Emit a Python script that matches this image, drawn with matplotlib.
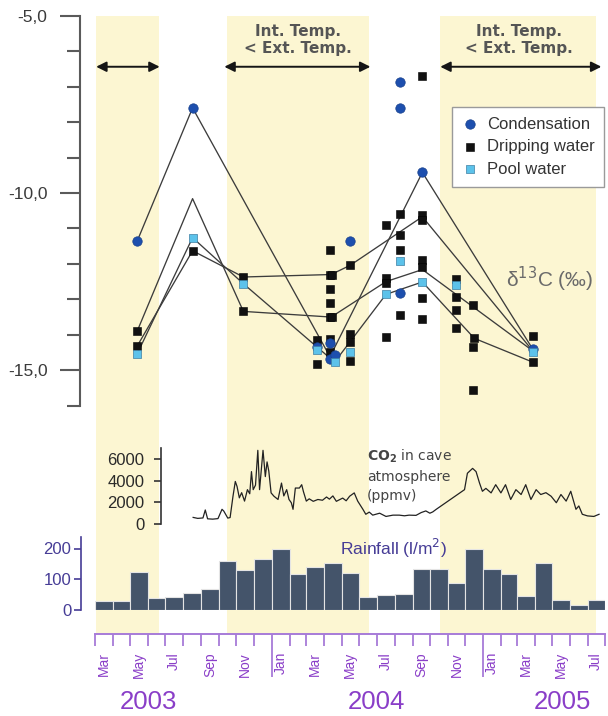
import matplotlib
matplotlib.use('Agg')
import matplotlib.pyplot as plt
import matplotlib.dates as mdates
from matplotlib import font_manager
from matplotlib.ticker import MultipleLocator, NullFormatter
import pandas as pd


def has_font(name):
    try:
        font_manager.findfont(name, fallback_to_default=False)
        return True
    except Exception:
        return False


SANS = 'Liberation Sans'
NARROW = 'Liberation Sans Narrow' if has_font('Liberation Sans Narrow') else 'Liberation Sans'
YEAR_SIZE = 20 if NARROW != 'Liberation Sans' else 18.5
plt.rcParams['font.family'] = [SANS, 'DejaVu Sans']

# ---------------- data ----------------
band_starts = ['2003-03-03', '2003-10-15', '2004-10-19']
band_ends = ['2003-06-19', '2004-06-18', '2005-07-15']
arrow_starts = ['2003-03-03', '2003-10-11', '2004-10-19']
arrow_ends = ['2003-06-21', '2004-06-20', '2005-07-25']
band_text = 'Int. Temp.\n< Ext. Temp.'
band_text_x = ['2004-02-15', '2005-03-05']

# delta13C scatter
cond_dates = ['2003-05-13', '2003-08-17', '2004-03-19', '2004-04-11', '2004-04-11', '2004-04-19',
              '2004-05-16', '2004-08-10', '2004-08-10', '2004-08-10', '2004-09-18', '2005-03-28']
cond_vals = [-11.36, -7.60, -14.35, -14.24, -14.68, -14.56, -11.36, -6.86, -7.60, -12.82, -9.42, -14.40]

drip_dates = ['2003-05-13', '2003-05-13', '2003-08-17', '2003-11-13', '2003-11-13',
              '2004-03-19', '2004-03-19',
              '2004-04-11', '2004-04-11', '2004-04-14', '2004-04-11', '2004-04-11', '2004-04-11',
              '2004-04-14', '2004-04-11', '2004-04-11',
              '2004-05-16', '2004-05-16', '2004-05-16', '2004-05-16',
              '2004-07-17', '2004-07-17', '2004-07-17', '2004-07-17',
              '2004-08-10', '2004-08-10', '2004-08-10', '2004-08-10',
              '2004-09-18', '2004-09-18', '2004-09-18', '2004-09-18', '2004-09-18', '2004-09-18', '2004-09-18',
              '2004-11-15', '2004-11-15', '2004-11-15', '2004-11-15',
              '2004-12-15', '2004-12-17', '2004-12-15', '2004-12-15',
              '2005-03-28', '2005-03-28']
drip_vals = [-13.90, -14.32, -11.63, -12.37, -13.34,
             -14.16, -14.82,
             -11.62, -12.30, -12.30, -12.70, -13.10, -13.50,
             -13.50, -14.11, -14.49,
             -12.04, -13.97, -14.20, -14.74,
             -10.91, -12.40, -12.55, -14.05,
             -10.58, -11.19, -11.62, -13.43,
             -6.70, -10.62, -10.75, -11.90, -12.10, -12.97, -13.55,
             -12.42, -12.94, -13.31, -13.81,
             -13.17, -14.10, -14.35, -15.55,
             -14.02, -14.77]

pool_dates = ['2003-05-13', '2003-08-17', '2003-11-13', '2004-03-19', '2004-04-19', '2004-05-16',
              '2004-07-17', '2004-08-10', '2004-09-18', '2004-11-15', '2005-03-28']
pool_vals = [-14.54, -11.26, -12.56, -14.44, -14.77, -14.49, -12.86, -11.93, -12.51, -12.60, -14.49]

# connecting lines (sampling sites)
site_a_dates = ['2003-05-13', '2003-08-17', '2004-04-11', '2004-09-18', '2005-03-28']
site_a_vals = [-11.36, -7.60, -14.62, -9.42, -14.40]
site_b_dates = ['2003-05-13', '2003-08-17', '2003-11-13', '2004-04-13', '2004-05-16', '2004-09-18', '2005-03-28']
site_b_vals = [-14.32, -11.63, -12.37, -12.30, -12.04, -10.67, -14.45]
site_c_dates = ['2003-05-13', '2003-08-17', '2003-11-13', '2004-04-19', '2004-07-17', '2004-09-18',
                '2004-12-17', '2005-03-28']
site_c_vals = [-14.54, -11.26, -12.56, -14.77, -12.86, -12.51, -14.10, -14.77]
site_d_dates = ['2003-05-13', '2003-08-17', '2003-11-13', '2004-04-13', '2004-07-17', '2004-09-18', '2005-03-28']
site_d_vals = [-13.90, -10.16, -13.34, -13.50, -12.50, -12.16, -14.45]

d13c_ticks = [-5, -10, -15]
d13c_ticklabels = ['-5,0', '-10,0', '-15,0']

# CO2 in cave atmosphere (ppmv)
co2_dates = ['2003-08-18', '2003-08-26', '2003-09-04', '2003-09-08', '2003-09-12', '2003-09-21', '2003-09-30',
             '2003-10-07', '2003-10-10', '2003-10-17', '2003-10-21', '2003-10-26', '2003-10-30', '2003-11-02',
             '2003-11-06', '2003-11-10', '2003-11-15', '2003-11-20', '2003-11-24', '2003-11-27', '2003-11-30',
             '2003-12-04', '2003-12-08', '2003-12-11', '2003-12-17', '2003-12-21', '2003-12-24', '2003-12-27',
             '2003-12-31', '2004-01-05', '2004-01-12', '2004-01-18', '2004-01-22', '2004-01-27', '2004-01-31',
             '2004-02-04', '2004-02-07', '2004-02-11', '2004-02-18', '2004-02-22', '2004-02-25', '2004-03-01',
             '2004-03-06', '2004-03-13', '2004-03-21', '2004-03-29', '2004-04-05', '2004-04-10', '2004-04-16',
             '2004-04-22', '2004-05-03', '2004-05-09', '2004-05-15', '2004-05-23', '2004-05-29', '2004-06-07',
             '2004-06-12', '2004-06-18', '2004-06-24', '2004-07-06', '2004-07-17', '2004-07-29', '2004-08-09',
             '2004-08-18', '2004-08-26', '2004-09-07', '2004-09-16', '2004-09-24', '2004-10-01', '2004-10-06',
             '2004-10-12', '2004-11-30', '2004-12-05', '2004-12-14', '2004-12-20', '2004-12-26', '2004-12-31',
             '2005-01-06', '2005-01-15', '2005-01-23', '2005-02-01', '2005-02-09', '2005-02-18', '2005-02-27',
             '2005-03-08', '2005-03-16', '2005-03-25', '2005-04-03', '2005-04-11', '2005-04-20', '2005-04-29',
             '2005-05-08', '2005-05-16', '2005-05-25', '2005-06-02', '2005-06-11', '2005-06-16', '2005-06-22',
             '2005-07-01', '2005-07-12', '2005-07-21']
co2_vals = [610, 520, 560, 1300, 480, 450, 500,
            1360, 1200, 545, 600, 2570, 3940, 3480,
            2420, 2900, 2120, 3180, 2800, 4850, 3180,
            3600, 6820, 3180, 6820, 4390, 5750, 4900,
            2880, 2570, 2270, 3790, 2600, 3180, 2270,
            1970, 1360, 3330, 3330, 3640, 3000, 2120,
            2330, 2100, 2270, 2200, 2500, 2300, 2600,
            2100, 2400, 2150, 2570, 2880, 2120, 1360,
            900, 1100, 820, 1000, 700, 820, 820,
            760, 820, 800, 1060, 1210, 1000, 1120,
            1360, 3180, 4700, 5150, 4850, 3790, 3030,
            3300, 2880, 3640, 2880, 3640, 2270, 3180,
            2730, 3640, 2270, 3180, 2730, 2900, 2570,
            1970, 2730, 2120, 3030, 1360, 1670, 900,
            750, 700, 900]
co2_ticks = [0, 2000, 4000, 6000]

# monthly rainfall (l/m2), Mar 2003 .. Jul 2005
rain_months = pd.date_range('2003-03-01', '2005-07-01', freq='MS')
rain_vals = [27, 29, 122, 37, 40, 54, 68, 158, 128, 165, 200, 116, 138, 152, 119,
             42, 49, 52, 134, 134, 86, 197, 134, 118, 45, 152, 31, 16, 31]
rain_ticks = [0, 100, 200]

month_labels = ['Mar', 'May', 'Jul', 'Sep', 'Nov', 'Jan', 'Mar', 'May', 'Jul', 'Sep', 'Nov',
                'Jan', 'Mar', 'May', 'Jul']
month_label_dates = ['2003-03-16', '2003-05-16', '2003-07-16', '2003-09-16', '2003-11-16',
                     '2004-01-16', '2004-03-16', '2004-05-16', '2004-07-16', '2004-09-16',
                     '2004-11-16', '2005-01-16', '2005-03-16', '2005-05-16', '2005-07-16']
year_labels = ['2003', '2004', '2005']
year_dates = ['2003-06-01', '2004-07-01', '2005-05-19']

# ---------------- style ----------------
BAND = '#fcf6d2'
PURPLE = '#8a3ec8'
PURPLE_LINE = '#a77bd8'
INDIGO = '#463c96'
GREY = '#5a5a5a'
BAR = '#44546a'
COND = '#1d4fae'
POOL = '#5cc2ea'

W, H = 608, 716
fig = plt.figure(figsize=(W / 100, H / 100), dpi=100)


def fy(px):
    return 1 - px / H


dn = mdates.datestr2num
X0, X1 = 95 / W, 605.4 / W
XMIN, XMAX = dn('2003-03-01'), dn('2005-08-01')

# background axes: bands + time axis
ax_bg = fig.add_axes([X0, fy(634), X1 - X0, fy(15.7) - fy(634)])
ax_bg.set_xlim(XMIN, XMAX)
ax_bg.set_ylim(0, 1)
for s, e in zip(band_starts, band_ends):
    ax_bg.axvspan(dn(s), dn(e), color=BAND, lw=0, zorder=0)
for k in ['left', 'right', 'top']:
    ax_bg.spines[k].set_visible(False)
ax_bg.spines['bottom'].set_color(PURPLE_LINE)
ax_bg.spines['bottom'].set_linewidth(1.4)
ax_bg.set_yticks([])
ax_bg.xaxis.set_major_locator(mdates.MonthLocator(bymonth=1))
ax_bg.xaxis.set_minor_locator(mdates.MonthLocator())
ax_bg.xaxis.set_major_formatter(NullFormatter())
ax_bg.xaxis.set_minor_formatter(NullFormatter())
ax_bg.tick_params(axis='x', which='major', length=31, width=1.3, color=PURPLE_LINE, direction='out')
ax_bg.tick_params(axis='x', which='minor', length=8.6, width=1.3, color=PURPLE_LINE, direction='out')
ax_bg.patch.set_visible(False)
for lab, d in zip(month_labels, month_label_dates):
    ax_bg.annotate(lab, xy=(dn(d), 0), xycoords=('data', 'axes fraction'), xytext=(0, -13),
                   textcoords='offset points', rotation=90, ha='center', va='top',
                   fontsize=10, color=PURPLE, family=NARROW, annotation_clip=False)
for lab, d in zip(year_labels, year_dates):
    ax_bg.annotate(lab, xy=(dn(d), 0), xycoords=('data', 'axes fraction'), xytext=(0, -49),
                   textcoords='offset points', ha='center', va='center',
                   fontsize=YEAR_SIZE, color=PURPLE, family=NARROW, annotation_clip=False)

# top panel: delta13C
ax = fig.add_axes([X0, fy(405.7), X1 - X0, fy(15.7) - fy(405.7)])
ax.patch.set_visible(False)
ax.set_xlim(XMIN, XMAX)
ax.set_ylim(-16, -5)
for k in ['right', 'top', 'bottom']:
    ax.spines[k].set_visible(False)
ax.spines['left'].set_position(('outward', 10.8))
ax.spines['left'].set_color(GREY)
ax.spines['left'].set_linewidth(1.5)
ax.set_xticks([])
ax.set_yticks(d13c_ticks)
ax.set_yticklabels(d13c_ticklabels)
ax.yaxis.set_minor_locator(MultipleLocator(1))
ax.tick_params(axis='y', which='major', length=14.4, width=1.5, color=GREY, pad=9,
               labelsize=12.5, labelcolor='#3a3a3a')
ax.tick_params(axis='y', which='minor', length=9.6, width=1.5, color=GREY)

for ds, vs in [(site_a_dates, site_a_vals), (site_b_dates, site_b_vals),
               (site_c_dates, site_c_vals), (site_d_dates, site_d_vals)]:
    ax.plot(dn(ds), vs, color='#3c3c3c', lw=0.95, zorder=2)

h_drip = ax.scatter(dn(drip_dates), drip_vals, marker='s', s=36, color='#111111',
                    edgecolor='#000000', linewidth=0.4, zorder=3, label='Dripping water')
h_cond = ax.scatter(dn(cond_dates), cond_vals, marker='o', s=46, color=COND,
                    edgecolor='#17408c', linewidth=0.5, zorder=4, label='Condensation')
h_pool = ax.scatter(dn(pool_dates), pool_vals, marker='s', s=36, color=POOL,
                    edgecolor='#3d7fa3', linewidth=0.5, zorder=5, label='Pool water')

for s, e in zip(arrow_starts, arrow_ends):
    ax.annotate('', xy=(dn(e), -6.44), xytext=(dn(s), -6.44),
                arrowprops=dict(arrowstyle='<|-|>', color='#151515', lw=1.4,
                                mutation_scale=15, shrinkA=0, shrinkB=0))
for xd in band_text_x:
    ax.text(dn(xd), -5.68, band_text, ha='center', va='center', fontweight='bold',
            family='DejaVu Sans', fontsize=11, color='#555555', linespacing=1.2)

leg = ax.legend(handles=[h_cond, h_drip, h_pool], loc='upper left',
                bbox_to_anchor=(451.7 / W, fy(106.7)), bbox_transform=fig.transFigure,
                borderaxespad=0, frameon=True, fancybox=False, fontsize=12,
                edgecolor='#9a9a9a', handletextpad=0.5, borderpad=0.6,
                labelspacing=0.45, handlelength=1.0, framealpha=1)
leg.get_frame().set_linewidth(1.0)
for t in leg.get_texts():
    t.set_color('#333333')

fig.text(550 / W, fy(279), 'δ$^{13}$C (‰)', ha='center', va='center', fontsize=15,
         color='#6a6a6a')

# CO2 panel
ax_c = fig.add_axes([X0, fy(524), X1 - X0, 75.6 / H])
ax_c.patch.set_visible(False)
ax_c.set_xlim(XMIN, XMAX)
ax_c.set_ylim(0, 7000)
for k in ['right', 'top', 'bottom']:
    ax_c.spines[k].set_visible(False)
ax_c.spines['left'].set_position(('data', dn('2003-06-23')))
ax_c.spines['left'].set_color('#333333')
ax_c.spines['left'].set_linewidth(1.2)
ax_c.set_xticks([])
ax_c.set_yticks(co2_ticks)
ax_c.tick_params(axis='y', length=5, width=1.2, color='#333333', pad=7,
                 labelsize=12, labelcolor='#2a2a2a')
ax_c.plot(dn(co2_dates), co2_vals, color='#222222', lw=0.9)

fig.text(367 / W, fy(456), r'$\mathbf{CO_2}$ in cave', ha='left', va='center',
         family='DejaVu Sans', fontsize=10, color='#444444')
fig.text(367 / W, fy(477.5), 'atmosphere', ha='left', va='center',
         family='DejaVu Sans', fontsize=10, color='#444444')
fig.text(367 / W, fy(496), '(ppmv)', ha='left', va='center',
         family='DejaVu Sans', fontsize=10, color='#444444')

# rainfall panel
RSC = 0.305
ax_r = fig.add_axes([X0, fy(609.5), X1 - X0, 238 * RSC / H])
ax_r.patch.set_visible(False)
ax_r.set_xlim(XMIN, XMAX)
ax_r.set_ylim(0, 238)
widths = [(rain_months[i] + pd.offsets.MonthBegin(1) - rain_months[i]).days for i in range(len(rain_months))]
ax_r.bar(mdates.date2num(rain_months.to_pydatetime()), rain_vals, width=widths, align='edge',
         color=BAR, edgecolor='#e4e4e4', linewidth=0.8)
for k in ['right', 'top', 'bottom']:
    ax_r.spines[k].set_visible(False)
ax_r.spines['left'].set_position(('outward', 10))
ax_r.spines['left'].set_color(INDIGO)
ax_r.spines['left'].set_linewidth(1.2)
ax_r.set_xticks([])
ax_r.set_yticks(rain_ticks)
ax_r.tick_params(axis='y', length=5, width=1.2, color=INDIGO, pad=2,
                 labelsize=12, labelcolor=INDIGO)
fig.text(393 / W, fy(548), 'Rainfall (l/m$^2$)', ha='center', va='center', fontsize=12.5,
         color=INDIGO)

fig.savefig('out.png', dpi=100)
